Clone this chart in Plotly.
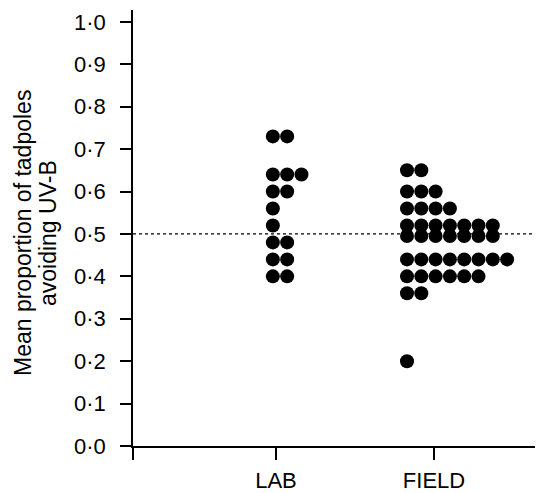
import plotly.graph_objects as go

categories = ["LAB", "FIELD"]
lab_values = [0.73, 0.64, 0.60, 0.56, 0.52, 0.48, 0.44, 0.40]
lab_counts = [2, 3, 2, 1, 1, 2, 2, 2]
field_values = [0.65, 0.60, 0.56, 0.52, 0.495, 0.44, 0.40, 0.36, 0.20]
field_counts = [2, 3, 4, 7, 7, 8, 6, 2, 1]
y_ticks = [0.0, 0.1, 0.2, 0.3, 0.4, 0.5, 0.6, 0.7, 0.8, 0.9, 1.0]
y_ticklabels = ["0\u00b70", "0\u00b71", "0\u00b72", "0\u00b73", "0\u00b74", "0\u00b75",
                "0\u00b76", "0\u00b77", "0\u00b78", "0\u00b79", "1\u00b70"]
y_title_lines = ["Mean proportion of tadpoles", "avoiding UV-B"]
reference_value = 0.5

# layout constants (dot stacking)
cat_pos = {"LAB": 1.0, "FIELD": 2.0}
start_offset = {"LAB": -0.02, "FIELD": -0.171}
dot_step = 0.0905

def build(cat, values, counts):
    xs, ys = [], []
    for v, c in zip(values, counts):
        for i in range(c):
            xs.append(cat_pos[cat] + start_offset[cat] + i * dot_step)
            ys.append(v)
    return xs, ys

fig = go.Figure()
for cat, vals, cnts in [("LAB", lab_values, lab_counts), ("FIELD", field_values, field_counts)]:
    xs, ys = build(cat, vals, cnts)
    fig.add_trace(go.Scatter(x=xs, y=ys, mode="markers",
                             marker=dict(size=14, color="black", line=dict(width=0)),
                             showlegend=False, cliponaxis=False))

xmin, xmax = 0.095, 2.639
fig.add_shape(type="line", xref="x", yref="y", x0=xmin, x1=xmax,
              y0=reference_value, y1=reference_value,
              line=dict(color="black", width=1.2, dash="dot"), layer="below")

font = dict(family="Liberation Sans, Arial, sans-serif", size=22, color="black")

for line, xp in zip(y_title_lines, [-0.2736, -0.2114]):
    fig.add_annotation(text=line, xref="paper", yref="paper", x=xp, y=0.4885,
                       xanchor="center", yanchor="middle", textangle=-90,
                       showarrow=False, font=dict(font, size=23))

fig.update_layout(
    width=537, height=493,
    margin=dict(l=133, r=2, t=10, b=47, autoexpand=False),
    paper_bgcolor="white", plot_bgcolor="white",
    font=font,
    xaxis=dict(range=[xmin, xmax], tickvals=[xmin, 1.0, 2.0], ticktext=[""] + categories,
               showline=True, linecolor="black", linewidth=1.5,
               ticks="outside", ticklen=12, tickwidth=1.5, tickcolor="black",
               showgrid=False, zeroline=False, tickfont=font, automargin=False,
               ticklabelstandoff=2),
    yaxis=dict(range=[0, 1.028], tickvals=y_ticks, ticktext=y_ticklabels,
               showline=True, linecolor="black", linewidth=1.5,
               ticks="outside", ticklen=11, tickwidth=1.5, tickcolor="black",
               showgrid=False, zeroline=False, tickfont=font, ticklabelstandoff=10,
               automargin=False),
)

fig.write_html("out.html", config={"displayModeBar": False},
               post_script="document.body.style.margin='0';document.body.style.overflow='hidden';")
